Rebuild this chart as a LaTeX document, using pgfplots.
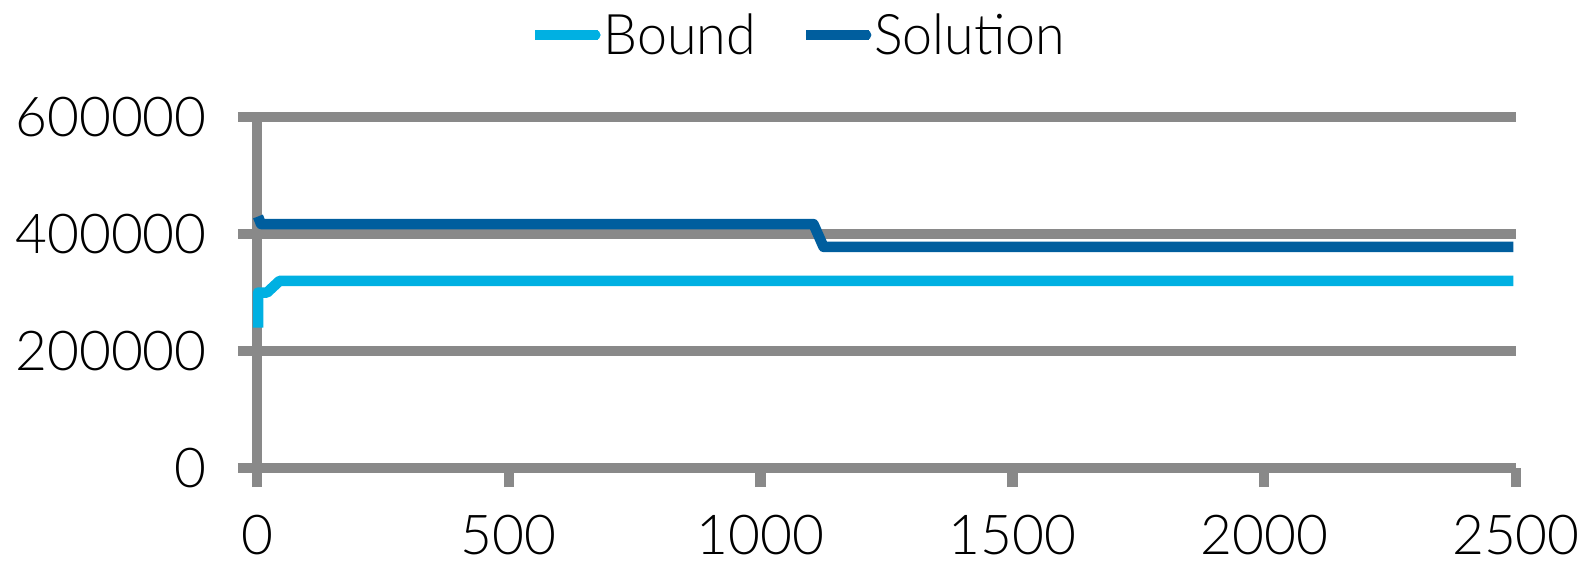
\documentclass[border=0pt]{standalone}
\usepackage{pgfplots}
\pgfplotsset{compat=1.18}
\usepackage{fontspec}
\setmainfont{Lato}[UprightFont={* Light}]
\newfontfamily\legfont{Lato}[UprightFont={* Light}, FakeStretch=0.96]
\definecolor{gridgray}{RGB}{137,137,137}
\definecolor{boundc}{RGB}{0,176,226}
\definecolor{solc}{RGB}{0,94,158}
\begin{document}
\begin{tikzpicture}
\begin{axis}[
  scale only axis,
  width=1259pt, height=351pt,
  xmin=0, xmax=2500, ymin=0, ymax=600000,
  axis lines=left,
  axis line style={draw=gridgray, line width=10.5pt, -},
  xtick={0,500,1000,1500,2000,2500},
  xticklabels={0,500,1000,1500,2000,2500},
  ytick={0,200000,400000,600000},
  yticklabels={0,200000,400000,600000},
  tick align=outside,
  major tick length=19pt,
  tick style={draw=gridgray, line width=10.5pt},
  ymajorgrids,
  grid style={draw=gridgray, line width=10.5pt},
  scaled y ticks=false,
  scaled x ticks=false,
  tick label style={font=\fontsize{55}{60}\selectfont, inner sep=0pt},
  yticklabel style={xshift=-31pt},
  xticklabel style={yshift=-28pt},
  clip=false,
  legend columns=2,
  legend style={draw=none, fill=none, inner sep=0pt, at={(0.2168,1.2336)}, anchor=west,
    font=\legfont\fontsize{56}{60}\selectfont, nodes={inner sep=0pt},
    /tikz/every even column/.append style={column sep=45pt}},
  legend image code/.code={\path (0pt,0pt) -- (63pt,0pt); \draw[#1, line cap=round] (5pt,0pt) -- (60pt,0pt);},
]
\addplot[boundc, line width=10.5pt, line join=round] coordinates {
(2,240000) (2,300000) (20,300000) (45,320000) (2495,320000)};
\addlegendentry{Bound}
\addplot[solc, line width=10.5pt, line join=round] coordinates {
(2,430000) (8,417000) (1105,417000) (1125,378000) (2495,378000)};
\addlegendentry{Solution}
\end{axis}
\path[use as bounding box] (-257pt,-98pt) rectangle (1323pt,468pt);
\end{tikzpicture}
\end{document}
